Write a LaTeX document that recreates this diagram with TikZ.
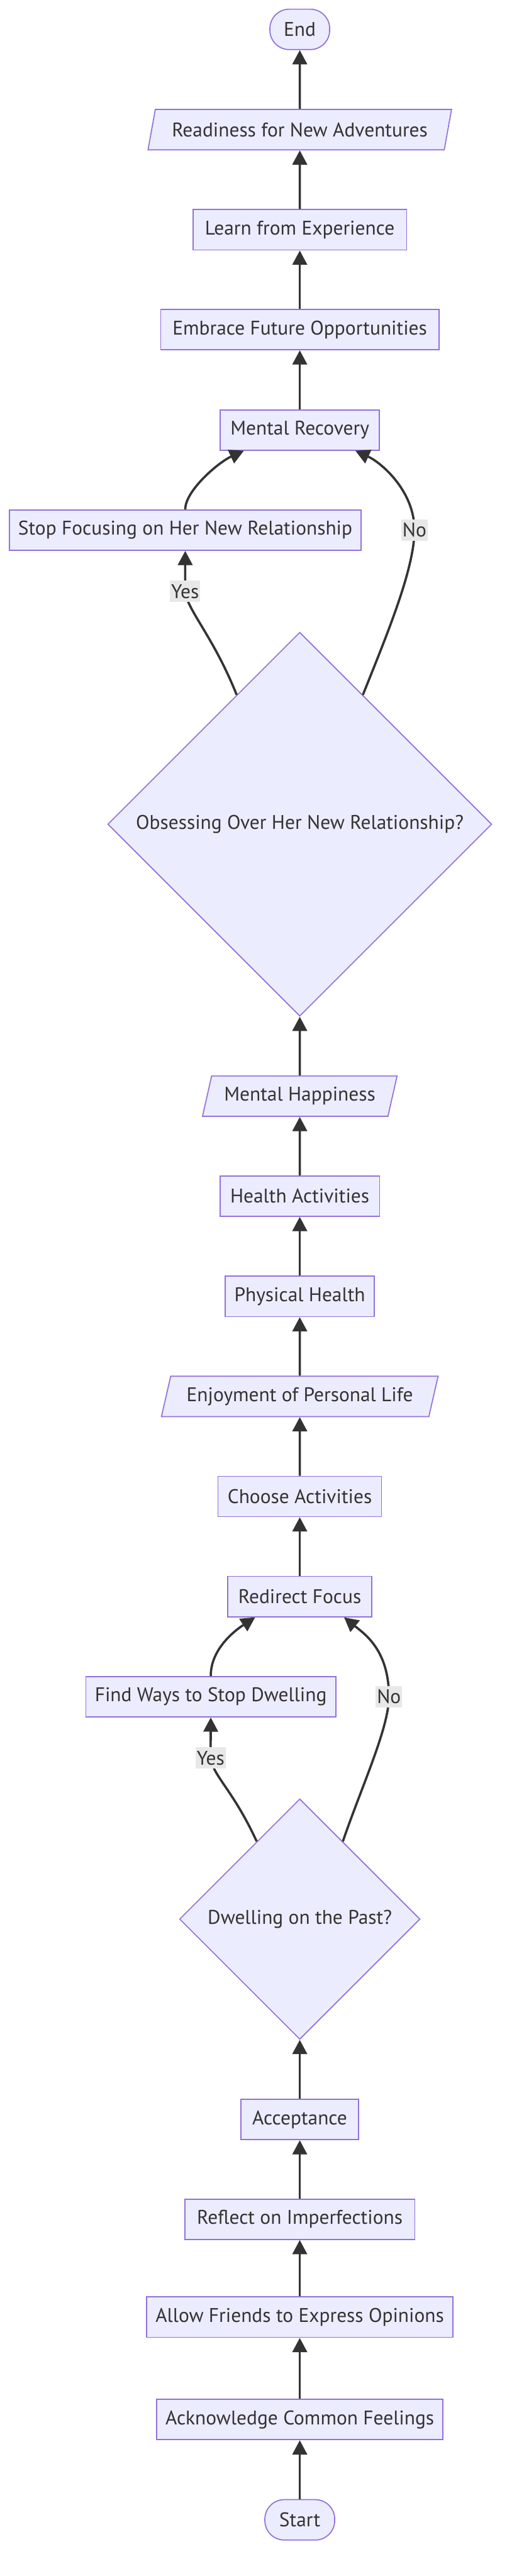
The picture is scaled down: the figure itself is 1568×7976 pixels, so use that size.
\documentclass[tikz,border=0pt]{standalone}
\usepackage{fontspec}
\setmainfont{PT Sans}
\usepackage{tikz}
\usetikzlibrary{arrows.meta,shapes.geometric}
\definecolor{boxfill}{HTML}{ECECFF}
\definecolor{boxline}{HTML}{9370DB}
\definecolor{inkcolor}{HTML}{333333}
\definecolor{lblcolor}{HTML}{E8E8E8}
\tikzset{
  proc box/.style={
    rectangle,
    draw=boxline,
    fill=boxfill,
    line width=0.95pt,
    minimum height=1.25cm,
    inner sep=0pt,
    text=inkcolor,
    font=\fontsize{17.4}{20}\selectfont
  },
  term box/.style={
    proc box,
    rounded corners=0.6cm
  },
  io box/.style={
    proc box,
    trapezium,
    trapezium left angle=63,
    trapezium right angle=117,
    trapezium stretches body
  },
  choice box/.style={
    proc box,
    diamond,
    aspect=1
  },
  edge lbl/.style={
    fill=lblcolor,
    text=inkcolor,
    inner sep=0.04cm,
    minimum height=0.66cm,
    font=\fontsize{17.4}{20}\selectfont
  },
  arrow/.style={
    -{Triangle[length=0.44cm,width=0.45cm]},
    line width=2pt,
    draw=inkcolor
  }
}

\begin{document}
\begin{tikzpicture}[x=0.01cm, y=-0.01cm]
  \useasboundingbox (0,0) rectangle (1568,7976);

  % Start and first steps
  \node[term box, minimum width=2.16cm] (start) at (928,7802) {Start};
  \node[proc box, minimum width=8.86cm] (ack) at (928,7491.5) {Acknowledge Common Feelings};
  \node[proc box, minimum width=9.48cm] (allow) at (928,7174.5) {Allow Friends to Express Opinions};
  \node[proc box, minimum width=7.12cm] (reflect) at (928,6871.5) {Reflect on Imperfections};
  \node[proc box, minimum width=3.64cm] (accept) at (928,6562.5) {Acceptance};

  % First decision
  \node[choice box, minimum width=7.44cm, minimum height=7.44cm] (dwell) at (928,5942) {Dwelling on the Past?};
  \node[proc box, minimum width=7.73cm] (findways) at (652.5,5253.5) {Find Ways to Stop Dwelling};
  \node[proc box, minimum width=4.46cm] (redirect) at (928,4943.5) {Redirect Focus};

  % Activities
  \node[proc box, minimum width=5.06cm] (choose) at (928,4633.5) {Choose Activities};
  \node[io box, minimum width=8.56cm] (enjoy) at (928,4323.5) {Enjoyment of Personal Life};
  \node[proc box, minimum width=4.61cm] (phys) at (928,4014) {Physical Health};
  \node[proc box, minimum width=4.94cm] (health) at (928,3703.5) {Health Activities};
  \node[io box, minimum width=6.02cm] (happy) at (928,3394) {Mental Happiness};

  % Second decision
  \node[choice box, minimum width=11.88cm, minimum height=11.88cm] (obsess) at (928,2552) {Obsessing Over Her New Relationship?};
  \node[proc box, minimum width=10.89cm] (stopfocus) at (573.5,1641.5) {Stop Focusing on Her New Relationship};
  \node[proc box, minimum width=4.93cm] (recover) at (928,1331.5) {Mental Recovery};

  % Last steps
  \node[proc box, minimum width=8.61cm] (embrace) at (928,1020.5) {Embrace Future Opportunities};
  \node[proc box, minimum width=6.61cm] (learn) at (928,711.5) {Learn from Experience};
  \node[io box, minimum width=9.39cm] (ready) at (928,401.5) {Readiness for New Adventures};
  \node[term box, minimum width=1.85cm] (theend) at (928,91) {End};

  % Straight flow
  \draw[arrow] (start) -- (ack);
  \draw[arrow] (ack) -- (allow);
  \draw[arrow] (allow) -- (reflect);
  \draw[arrow] (reflect) -- (accept);
  \draw[arrow] (accept) -- (dwell);
  \draw[arrow] (redirect) -- (choose);
  \draw[arrow] (choose) -- (enjoy);
  \draw[arrow] (enjoy) -- (phys);
  \draw[arrow] (phys) -- (health);
  \draw[arrow] (health) -- (happy);
  \draw[arrow] (happy) -- (obsess);
  \draw[arrow] (recover) -- (embrace);
  \draw[arrow] (embrace) -- (learn);
  \draw[arrow] (learn) -- (ready);
  \draw[arrow] (ready) -- (theend);

  % Branches of first decision
  \coordinate (yesB) at (652,5443);
  \coordinate (noB) at (1204,5253);
  \draw[arrow] (dwell.119) .. controls (720,5540) and (660,5500) .. (yesB) -- (findways.south);
  \draw[arrow] (findways.north) .. controls (652,5110) and (720,5053) .. ([xshift=-1.38cm]redirect.south);
  \draw[arrow] (dwell.61) .. controls (1120,5530) and (1204,5350) .. (noB)
    .. controls (1204,5110) and (1130,5060) .. ([xshift=1.37cm]redirect.south);
  \node[edge lbl] (yesBl) at (yesB) {Yes};
  \node[edge lbl] (noBl) at (noB) {No};

  % Branches of second decision
  \coordinate (yesA) at (573,1831);
  \coordinate (noA) at (1283,1641);
  \draw[arrow] (obsess.116) .. controls (660,1970) and (580,1890) .. (yesA) -- (stopfocus.south);
  \draw[arrow] (stopfocus.north) .. controls (573,1520) and (675,1432) .. ([xshift=-1.73cm]recover.south);
  \draw[arrow] (obsess.64) .. controls (1200,1960) and (1283,1760) .. (noA)
    .. controls (1283,1520) and (1180,1432) .. ([xshift=1.72cm]recover.south);
  \node[edge lbl] (yesAl) at (yesA) {Yes};
  \node[edge lbl] (noAl) at (noA) {No};
\end{tikzpicture}
\end{document}
